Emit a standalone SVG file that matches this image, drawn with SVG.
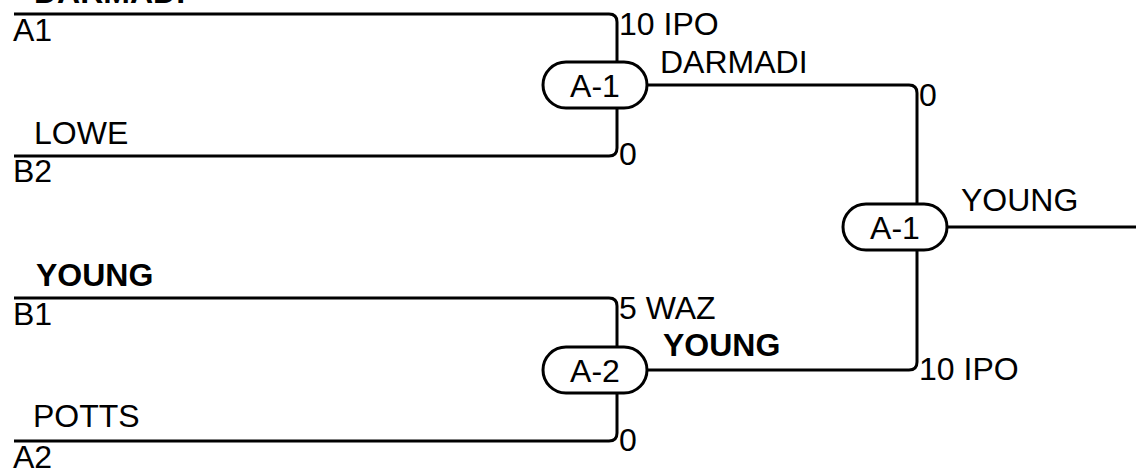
<svg xmlns="http://www.w3.org/2000/svg" width="1136" height="471" viewBox="0 0 1136 471">
<style>
text{font-family:"Liberation Sans",Arial,sans-serif;font-size:32px;fill:#000}
.b{font-weight:bold}
.m{text-anchor:middle}
.ln{fill:none;stroke:#000;stroke-width:3}
.pill{fill:#fff;stroke:#000;stroke-width:3}
</style>
<rect width="1136" height="471" fill="#fff"/>
<g id="connectors">
<path class="ln" d="M14,14 H609 Q617,14 617,22 V62"/>
<path class="ln" d="M14,156 H609 Q617,156 617,148 V108"/>
<path class="ln" d="M14,298 H609 Q617,298 617,306 V347"/>
<path class="ln" d="M14,441 H609 Q617,441 617,433 V393"/>
<path class="ln" d="M645,85 H909 Q917,85 917,93 V204"/>
<path class="ln" d="M645,370 H909 Q917,370 917,362 V250"/>
<path class="ln" d="M945,227 H1136"/>
</g>
<g id="labels">
<text class="b" x="34" y="3">DARMADI</text>
<text x="13" y="41">A1</text>
<text x="34" y="144">LOWE</text>
<text x="13" y="182">B2</text>
<text class="b" x="36" y="286">YOUNG</text>
<text x="13" y="325">B1</text>
<text x="33" y="427">POTTS</text>
<text x="13" y="468">A2</text>
<text x="619" y="35">10 IPO</text>
<text x="619" y="165">0</text>
<text x="619" y="319">5 WAZ</text>
<text x="619" y="451">0</text>
<text x="660" y="73">DARMADI</text>
<text class="b" x="663" y="356">YOUNG</text>
<text x="919" y="106">0</text>
<text x="919" y="380">10 IPO</text>
<text x="961" y="211">YOUNG</text>
</g>
<g id="match-a1-top">
<rect class="pill" x="543" y="62" width="104" height="46" rx="23"/>
<text class="m" x="595" y="96.5">A-1</text>
</g>
<g id="match-a2">
<rect class="pill" x="543" y="347" width="104" height="46" rx="23"/>
<text class="m" x="595" y="381.5">A-2</text>
</g>
<g id="match-a1-final">
<rect class="pill" x="843" y="204" width="104" height="46" rx="23"/>
<text class="m" x="895" y="238.5">A-1</text>
</g>
</svg>
